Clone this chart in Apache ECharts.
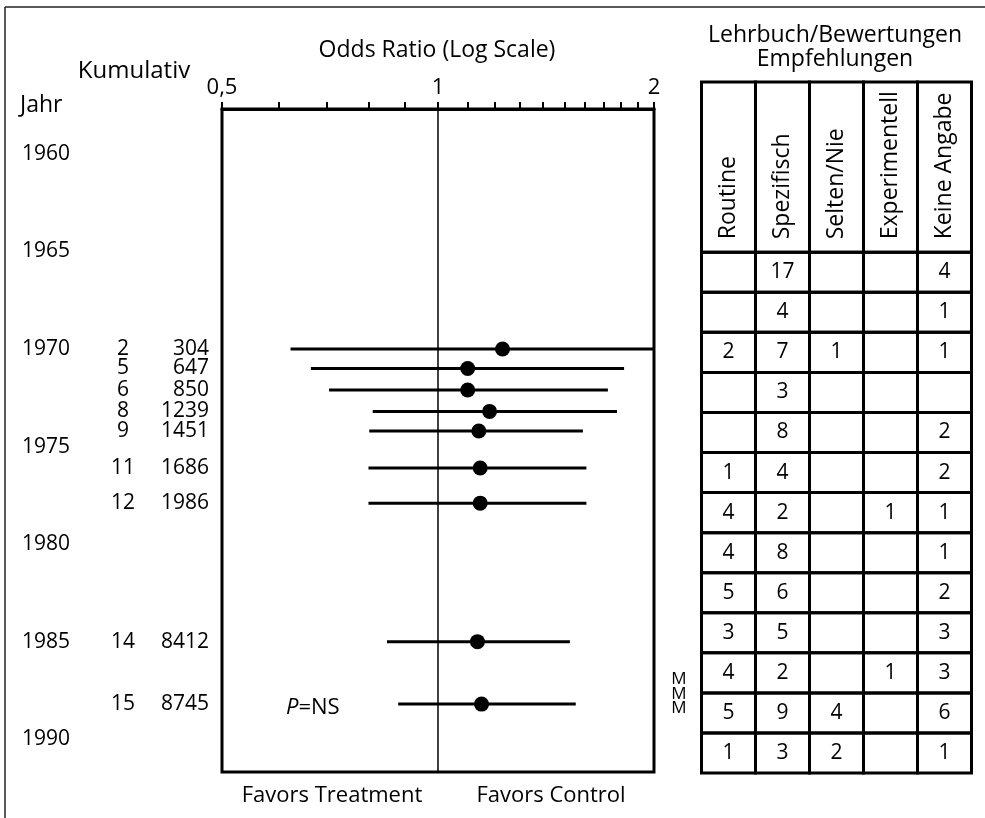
<!DOCTYPE html>
<html><head><meta charset="utf-8">
<script src="https://cdn.jsdelivr.net/npm/echarts@6/dist/echarts.min.js"></script>
<style>html,body{margin:0;padding:0;background:#fff}#c{width:985px;height:818px}</style>
</head><body><div id="c"></div>
<script>
// ---- data ----
const rowYears  = [1970, 1971, 1972.1, 1973.2, 1974.2, 1976.1, 1977.9, 1985, 1988.2];
const studies   = [2, 5, 6, 8, 9, 11, 12, 14, 15];
const patients  = [304, 647, 850, 1239, 1451, 1686, 1986, 8412, 8745];
const orPoint   = [1.23, 1.10, 1.10, 1.18, 1.14, 1.145, 1.145, 1.135, 1.15];
const orLow     = [0.623, 0.665, 0.705, 0.811, 0.802, 0.80, 0.80, 0.849, 0.88];
const orHigh    = [2.0, 1.817, 1.725, 1.776, 1.592, 1.61, 1.61, 1.527, 1.556];
const yearTicks = [1960, 1965, 1970, 1975, 1980, 1985, 1990];
const orTicks   = [0.5, 0.6, 0.7, 0.8, 0.9, 1, 1.1, 1.2, 1.3, 1.4, 1.5, 1.6, 1.7, 1.8, 1.9, 2];
const orLabels  = [0.5, 1, 2];
const tableColumns = ['Routine', 'Spezifisch', 'Selten/Nie', 'Experimentell', 'Keine Angabe'];
const tableRows = [
  ['', '17', '', '', '4'],
  ['', '4', '', '', '1'],
  ['2', '7', '1', '', '1'],
  ['', '3', '', '', ''],
  ['', '8', '', '', '2'],
  ['1', '4', '', '', '2'],
  ['4', '2', '', '1', '1'],
  ['4', '8', '', '', '1'],
  ['5', '6', '', '', '2'],
  ['3', '5', '', '', '3'],
  ['4', '2', '', '1', '3'],
  ['5', '9', '4', '', '6'],
  ['1', '3', '2', '', '1']
];

const FONT = '"Open Sans", "Noto Sans", sans-serif';
const lg = v => Math.log10(v);
const xMin = lg(0.5), xMax = lg(2);
const headerRows = 4.25;

const chart = echarts.init(document.getElementById('c'), null, {renderer: 'canvas'});

const cellData = [];
tableRows.forEach((r, ri) => r.forEach((v, ci) => cellData.push([ci, ri])));

const option = {
  backgroundColor: '#fff',
  animation: false,
  textStyle: {fontFamily: FONT},
  grid: [
    {left: 222, right: 331, top: 109, bottom: 46, show: true, borderColor: '#000', borderWidth: 3, backgroundColor: 'transparent'},
    {left: 701.5, width: 270, top: 82, height: 691}
  ],
  xAxis: [
    {
      type: 'value', gridIndex: 0, position: 'top', min: xMin, max: xMax,
      axisLine: {show: true, lineStyle: {color: '#000', width: 3}},
      axisTick: {show: true, inside: false, length: 7, lineStyle: {color: '#000', width: 2}, customValues: orTicks.map(lg)},
      axisLabel: {show: true, color: '#000', fontSize: 22, fontFamily: FONT, margin: 10,
        customValues: orLabels.map(lg),
        formatter: v => String(Math.round(Math.pow(10, v) * 10) / 10).replace('.', ',')},
      splitLine: {show: false}
    },
    {type: 'value', gridIndex: 1, min: 0, max: 5, show: false}
  ],
  yAxis: [
    {
      type: 'value', gridIndex: 0, inverse: true, min: 1957.7, max: 1991.68,
      axisLine: {show: false}, axisTick: {show: false}, splitLine: {show: false},
      axisLabel: {show: true, color: '#000', fontSize: 21, fontFamily: FONT, align: 'left', margin: 200,
        customValues: yearTicks, formatter: v => String(v)}
    },
    {type: 'value', gridIndex: 1, inverse: true, min: -headerRows, max: 13, show: false}
  ],
  series: [
    {
      type: 'custom', name: 'ci', xAxisIndex: 0, yAxisIndex: 0, clip: false, silent: true,
      data: rowYears.map((y, i) => [lg(orLow[i]), lg(orHigh[i]), y]),
      encode: {x: [0, 1], y: 2},
      renderItem: (params, api) => {
        const i = params.dataIndex;
        const pl = api.coord([api.value(0), api.value(2)]);
        const ph = api.coord([api.value(1), api.value(2)]);
        const pm = api.coord([xMin, api.value(2)]);
        return {type: 'group', children: [
          {type: 'line', shape: {x1: pl[0], y1: pl[1], x2: ph[0], y2: ph[1]}, style: {stroke: '#000', lineWidth: 3}},
          {type: 'text', x: pm[0] - 99, y: pm[1], style: {text: String(studies[i]), fill: '#000', fontSize: 21, fontFamily: FONT, textAlign: 'center', textVerticalAlign: 'middle'}},
          {type: 'text', x: pm[0] - 13, y: pm[1], style: {text: String(patients[i]), fill: '#000', fontSize: 21, fontFamily: FONT, textAlign: 'right', textVerticalAlign: 'middle'}}
        ]};
      }
    },
    {
      type: 'scatter', name: 'or', xAxisIndex: 0, yAxisIndex: 0, silent: true,
      symbol: 'circle', symbolSize: 15, itemStyle: {color: '#000', opacity: 1},
      data: rowYears.map((y, i) => [lg(orPoint[i]), y]),
      markLine: {silent: true, symbol: 'none', label: {show: false},
        lineStyle: {color: '#000', width: 1.5, type: 'solid', opacity: 1},
        data: [{xAxis: 0}]}
    },
    {
      type: 'custom', name: 'header', xAxisIndex: 1, yAxisIndex: 1, clip: false, silent: true,
      data: tableColumns.map((c, i) => [i]),
      encode: {x: 0},
      renderItem: (params, api) => {
        const ci = api.value(0);
        const p0 = api.coord([ci, -headerRows]);
        const p1 = api.coord([ci + 1, 0]);
        const x = Math.min(p0[0], p1[0]), y = Math.min(p0[1], p1[1]);
        const w = Math.abs(p1[0] - p0[0]), h = Math.abs(p1[1] - p0[1]);
        return {type: 'group', children: [
          {type: 'rect', shape: {x, y, width: w, height: h}, style: {fill: 'none', stroke: '#000', lineWidth: 3}},
          {type: 'text', x: x + w / 2, y: y + h - 13, rotation: Math.PI / 2,
            style: {text: tableColumns[ci], fill: '#000', fontSize: 23, fontFamily: FONT, textAlign: 'left', textVerticalAlign: 'middle'}}
        ]};
      }
    },
    {
      type: 'custom', name: 'cells', xAxisIndex: 1, yAxisIndex: 1, clip: false, silent: true,
      data: cellData,
      encode: {x: 0, y: 1},
      renderItem: (params, api) => {
        const ci = api.value(0), ri = api.value(1);
        const p0 = api.coord([ci, ri]);
        const p1 = api.coord([ci + 1, ri + 1]);
        const x = Math.min(p0[0], p1[0]), y = Math.min(p0[1], p1[1]);
        const w = Math.abs(p1[0] - p0[0]), h = Math.abs(p1[1] - p0[1]);
        return {type: 'group', children: [
          {type: 'rect', shape: {x, y, width: w, height: h}, style: {fill: 'none', stroke: '#000', lineWidth: 3}},
          {type: 'text', x: x + w / 2, y: y + h / 2,
            style: {text: tableRows[ri][ci], fill: '#000', fontSize: 21, fontFamily: FONT, textAlign: 'center', textVerticalAlign: 'middle'}}
        ]};
      }
    }
  ],
  graphic: [
    {type: 'line', shape: {x1: 5, y1: 7, x2: 985, y2: 7}, style: {stroke: '#222', lineWidth: 1.5}, silent: true},
    {type: 'line', shape: {x1: 5, y1: 7, x2: 5, y2: 818}, style: {stroke: '#222', lineWidth: 1.5}, silent: true},
    {type: 'text', x: 437, y: 50, style: {text: 'Odds Ratio (Log Scale)', fill: '#000', fontSize: 23, fontFamily: FONT, textAlign: 'center', textVerticalAlign: 'middle'}},
    {type: 'text', x: 134, y: 71, style: {text: 'Kumulativ', fill: '#000', fontSize: 24, fontFamily: FONT, textAlign: 'center', textVerticalAlign: 'middle'}},
    {type: 'text', x: 20, y: 105, style: {text: 'Jahr', fill: '#000', fontSize: 23, fontFamily: FONT, textAlign: 'left', textVerticalAlign: 'middle'}},
    {type: 'text', x: 332, y: 796, style: {text: 'Favors Treatment', fill: '#000', fontSize: 22, fontFamily: FONT, textAlign: 'center', textVerticalAlign: 'middle'}},
    {type: 'text', x: 551, y: 796, style: {text: 'Favors Control', fill: '#000', fontSize: 22, fontFamily: FONT, textAlign: 'center', textVerticalAlign: 'middle'}},
    {type: 'text', x: 286, y: 708, style: {text: '{i|P}=NS', fill: '#000', fontSize: 22, fontFamily: FONT, textAlign: 'left', textVerticalAlign: 'middle',
      rich: {i: {fontStyle: 'italic', fontSize: 22, fontFamily: FONT, fill: '#000'}}}},
    {type: 'text', x: 835, y: 35, style: {text: 'Lehrbuch/Bewertungen', fill: '#000', fontSize: 23, fontFamily: FONT, textAlign: 'center', textVerticalAlign: 'middle'}},
    {type: 'text', x: 835, y: 59, style: {text: 'Empfehlungen', fill: '#000', fontSize: 23, fontFamily: FONT, textAlign: 'center', textVerticalAlign: 'middle'}},
    {type: 'text', x: 679, y: 694, style: {text: 'M\nM\nM', fill: '#000', fontSize: 17, lineHeight: 14.5, fontFamily: FONT, textAlign: 'center', textVerticalAlign: 'middle'}}
  ]
};
chart.setOption(option);
</script>
</body></html>
